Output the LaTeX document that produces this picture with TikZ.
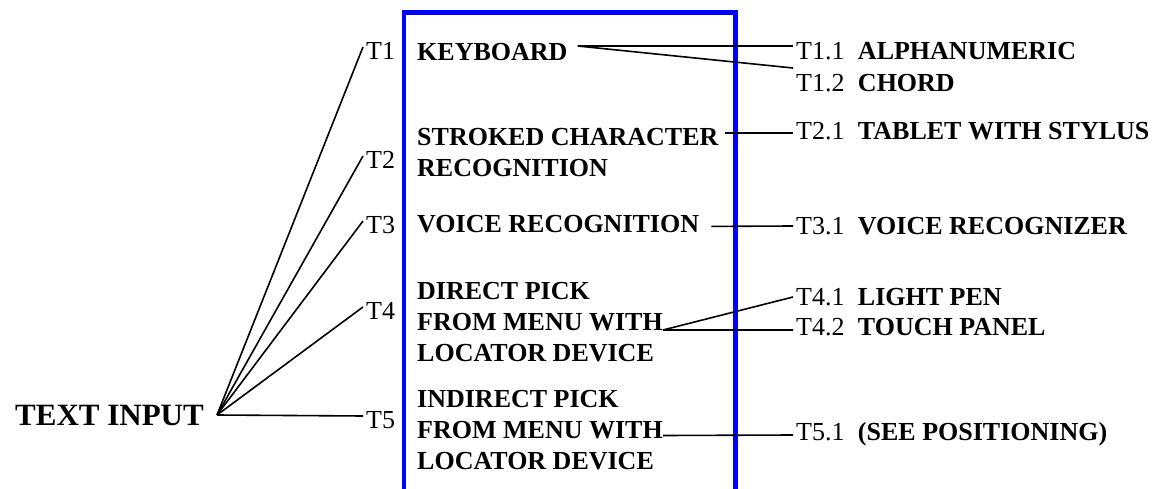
\documentclass[tikz,border=0pt]{standalone}
\usepackage{fontspec}
\setmainfont{Liberation Serif}
\usetikzlibrary{positioning}

\begin{document}
\begin{tikzpicture}[x=1pt,y=-1pt,
		code/.style={font=\fontsize{26}{31}\selectfont, inner sep=3pt},
		item/.style={font=\fontsize{26}{31}\selectfont\bfseries, inner sep=0pt, align=left},
		frame/.style={draw=blue, line width=4.5pt},
		link/.style={line width=1.6pt}]
		\useasboundingbox (0,0) rectangle (1156,489);
		% cadre
		\draw[frame] (404,500) -- (404,12.5) -- (735.5,12.5) -- (735.5,500);
		%
		% gauche
		%
		\node[font=\fontsize{31}{37}\selectfont\bfseries, inner sep=0pt, anchor=west] (tin) at (15,415) {TEXT INPUT};
		\coordinate (hub) at ([xshift=13pt]tin.east);
		\foreach \k/\y in {1/51,2/160,3/225,4/311,5/420}{
			\node[code, anchor=west] (t\k) at (363,\y) {T\k};
			\draw[link] (hub) -- ([yshift=4pt]t\k.west);
		}
		%
		% milieu
		%
		\node[item, anchor=north west] (kbd) at (417,43) {KEYBOARD};
		\node[item, anchor=north west] (skr) at (417,128) {STROKED CHARACTER\\RECOGNITION};
		\node[item, anchor=north west] (vrc) at (417,215) {VOICE RECOGNITION};
		\node[item, anchor=north west] (dpk) at (417,282) {DIRECT PICK\\FROM MENU WITH\\LOCATOR DEVICE};
		\node[item, anchor=north west] (ipk) at (417,390) {INDIRECT PICK\\FROM MENU WITH\\LOCATOR DEVICE};
		%
		% droite
		%
		\foreach \c/\n/\y/\txt in {c11/T1.1/51/ALPHANUMERIC, c12/T1.2/83/CHORD,
			c21/T2.1/131/TABLET WITH STYLUS, c31/T3.1/226/VOICE RECOGNIZER,
			c41/T4.1/297/LIGHT PEN, c42/T4.2/327/TOUCH PANEL,
			c51/T5.1/432/(SEE POSITIONING)}{
			\node[code, anchor=west] (\c) at (793,\y) {\n};
			\node[item, base right=10pt of \c] (n\c) {\txt};
		}
		\draw[link] ([xshift=10pt,yshift=-3pt]kbd.north east) -- ([yshift=5pt]c11.west);
		\draw[link] ([xshift=10pt,yshift=-3pt]kbd.north east) -- ([yshift=3pt]c12.north west);
		\draw[link] ([xshift=6pt,yshift=-5pt]skr.north east) -- ([yshift=-2pt]c21.west);
		\draw[link] ([xshift=12pt,yshift=-2.4pt]vrc.east) -- (c31.west);
		\draw[link] ([yshift=-8pt]dpk.east) -- (c41.west);
		\draw[link] ([yshift=-8pt]dpk.east) -- ([yshift=-3pt]c42.west);
		\draw[link] ([yshift=-5.5pt]ipk.east) -- ([yshift=-3pt]c51.west);
	\end{tikzpicture}
\end{document}
